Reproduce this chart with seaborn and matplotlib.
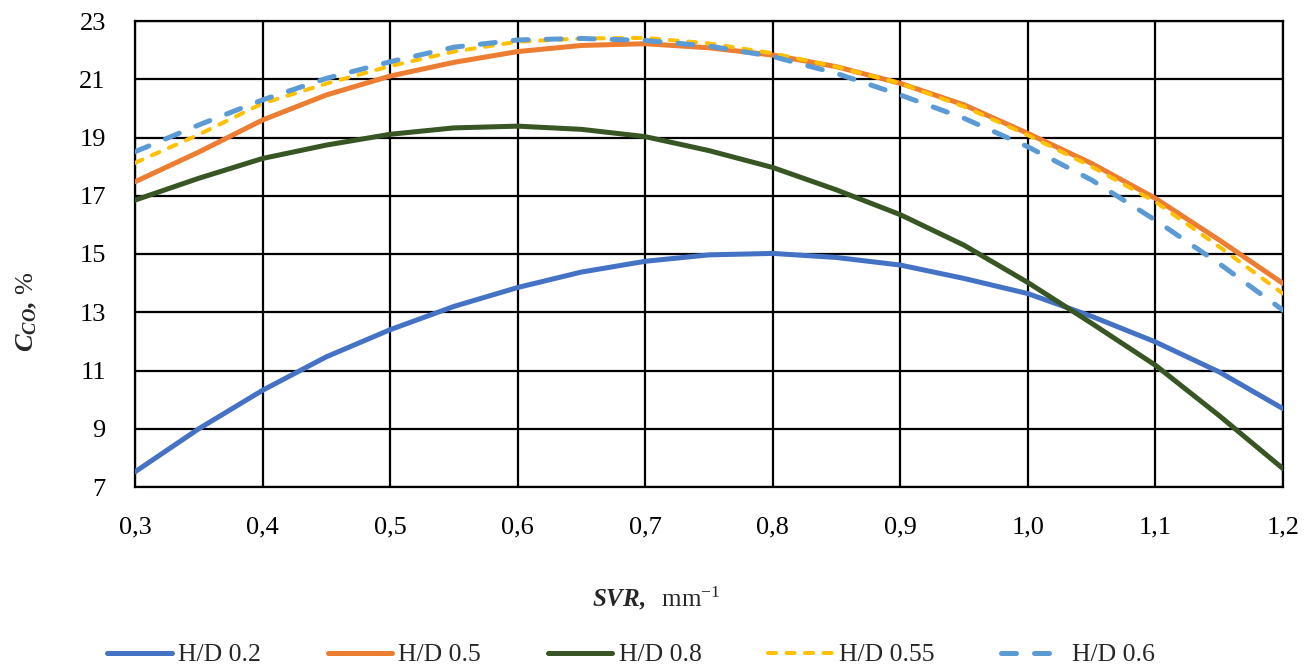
import numpy as np
import pandas as pd
import matplotlib
matplotlib.use("Agg")
import matplotlib.pyplot as plt
import seaborn as sns
from matplotlib.lines import Line2D

# ---- data ----
svr = [0.30, 0.35, 0.40, 0.45, 0.50, 0.55, 0.60, 0.65, 0.70, 0.75,
       0.80, 0.85, 0.90, 0.95, 1.00, 1.05, 1.10, 1.15, 1.20]
hd_02 = [7.52, 9.00, 10.32, 11.47, 12.40, 13.20, 13.85, 14.38, 14.75, 14.97,
         15.02, 14.88, 14.62, 14.16, 13.64, 12.86, 11.98, 10.95, 9.69]
hd_05 = [17.48, 18.50, 19.60, 20.46, 21.11, 21.58, 21.95, 22.16, 22.22, 22.08,
         21.83, 21.43, 20.86, 20.12, 19.14, 18.11, 16.91, 15.48, 13.99]
hd_08 = [16.85, 17.60, 18.28, 18.74, 19.11, 19.33, 19.39, 19.28, 19.03, 18.55,
         17.97, 17.20, 16.35, 15.30, 14.02, 12.62, 11.18, 9.45, 7.63]
hd_055 = [18.13, 19.10, 20.17, 20.85, 21.45, 21.95, 22.29, 22.40, 22.42, 22.23,
          21.89, 21.43, 20.86, 20.06, 19.08, 18.00, 16.79, 15.25, 13.64]
hd_06 = [18.51, 19.43, 20.29, 21.03, 21.60, 22.10, 22.35, 22.40, 22.33, 22.14,
         21.78, 21.20, 20.46, 19.66, 18.68, 17.54, 16.16, 14.67, 13.07]

series_names = ["H/D 0.2", "H/D 0.5", "H/D 0.8", "H/D 0.55", "H/D 0.6"]
series_values = [hd_02, hd_05, hd_08, hd_055, hd_06]

x_ticks = [0.3, 0.4, 0.5, 0.6, 0.7, 0.8, 0.9, 1.0, 1.1, 1.2]
x_tick_labels = ["0,3", "0,4", "0,5", "0,6", "0,7", "0,8", "0,9", "1,0", "1,1", "1,2"]
y_ticks = [7, 9, 11, 13, 15, 17, 19, 21, 23]

# ---- styles ----
colors = ["#4472C4", "#ED7D31", "#375623", "#FFC000", "#5B9BD5"]
widths = [3.6, 3.6, 3.6, 2.9, 3.6]
dashes = [None, None, None, (2.0, 2.6), (3.0, 3.6)]

sns.set_theme(style="white")
plt.rcParams["font.family"] = ["Liberation Serif", "DejaVu Serif"]
plt.rcParams["mathtext.fontset"] = "custom"
plt.rcParams["mathtext.rm"] = "Liberation Serif"
plt.rcParams["mathtext.it"] = "Liberation Serif:italic"
plt.rcParams["mathtext.bf"] = "Liberation Serif:bold"
try:
    plt.rcParams["mathtext.bfit"] = "Liberation Serif:italic:bold"
    has_bfit = True
except Exception:
    has_bfit = False

df = pd.DataFrame({"SVR": svr * len(series_names),
                   "C": sum(series_values, []),
                   "series": sum([[n] * len(svr) for n in series_names], [])})

fig = plt.figure(figsize=(13.04, 6.69), dpi=100)
ax = fig.add_axes([135 / 1304, 1 - 487 / 669, 1148 / 1304, 466 / 669])

handles = []
for name, col, lw, dsh in zip(series_names, colors, widths, dashes):
    sub = df[df["series"] == name]
    sns.lineplot(data=sub, x="SVR", y="C", ax=ax, color=col, linewidth=lw,
                 legend=False, zorder=3)
    ln = ax.lines[-1]
    ln.set_solid_capstyle("round")
    ln.set_dash_capstyle("round")
    ln.set_solid_joinstyle("round")
    if dsh is not None:
        ln.set_dashes(dsh)
    h = Line2D([0], [0], color=col, linewidth=lw, solid_capstyle="round",
               dash_capstyle="round")
    if dsh is not None:
        h.set_dashes(dsh)
    handles.append(h)

ax.set_xlim(0.3, 1.2)
ax.set_ylim(7, 23)
ax.set_xticks(x_ticks)
ax.set_xticklabels(x_tick_labels)
ax.set_yticks(y_ticks)
ax.tick_params(axis="x", labelsize=19, length=0, pad=21, colors="black")
ax.tick_params(axis="y", labelsize=19, length=0, pad=21, colors="black")
ax.grid(True, color="black", linewidth=1.6)
ax.set_axisbelow(True)
for s in ax.spines.values():
    s.set_color("black")
    s.set_linewidth(1.6)

if has_bfit:
    xl = r"$\mathbfit{SVR,}$  mm$^{\mathrm{-1}}$"
    yl = r"$\mathbfit{C}_{\mathbfit{CO}}\mathbfit{,}$ %"
else:
    xl = r"$\mathbf{SVR,}$  mm$^{\mathrm{-1}}$"
    yl = r"$\mathbf{C}_{\mathbf{CO}}\mathbf{,}$ %"
ax.set_xlabel(xl, fontsize=18)
ax.set_ylabel(yl, fontsize=19)
ax.xaxis.set_label_coords((656 - 135) / 1148, (487 - 584) / 466)
ax.yaxis.set_label_coords((39 - 135) / 1148, (487 - 312) / 466)

fig.legend(handles, series_names, loc="center", ncol=5, frameon=False,
           bbox_to_anchor=(631 / 1304, 1 - 655 / 669), fontsize=18.5,
           handlelength=2.5, handletextpad=0.25, columnspacing=2.6)

fig.savefig("out.png", dpi=100, facecolor="white")
